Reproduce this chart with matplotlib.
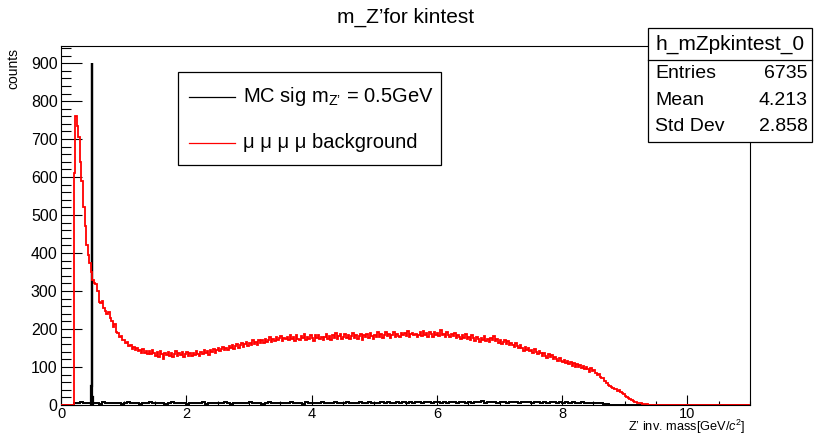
import numpy as np
import matplotlib
matplotlib.use("Agg")
import matplotlib.pyplot as plt
from matplotlib.patches import Rectangle
from matplotlib.lines import Line2D
from matplotlib.ticker import MultipleLocator

plt.rcParams["font.family"] = ["Liberation Sans", "DejaVu Sans"]
plt.rcParams["mathtext.fontset"] = "custom"
plt.rcParams["mathtext.rm"] = "Liberation Sans"
plt.rcParams["mathtext.it"] = "Liberation Sans:italic"

x_max = 11.0

# ---- mu mu mu mu background, 0.025 GeV bins ----
bkg_bin_width = 0.025
red_counts = [
    0, 0, 0, 0, 0, 0, 0, 0,                                  # 0.0-0.2
    610, 760, 735, 705, 640, 590, 520, 470,                  # 0.2-0.4
    420, 395, 375, 350, 330, 322, 318, 300,                  # 0.4-0.6
    272, 268, 275, 255, 248, 240, 244, 228,                  # 0.6-0.8
    220, 205, 212, 192, 190, 178, 182, 170,                  # 0.8-1.0
    172, 162, 165, 155, 158, 148, 152, 144,                  # 1.0-1.2
    150, 141, 146, 138, 148, 137, 143, 135,                  # 1.2-1.4
    141, 133, 145, 136, 130, 139, 127, 141,                  # 1.4-1.6
    134, 122, 138, 131, 140, 129, 136, 126,                  # 1.6-1.8
    135, 142, 128, 137, 131, 139, 126, 134,                  # 1.8-2.0
    140, 130, 136, 128, 138, 131, 142, 133,                  # 2.0-2.2
    129, 140, 135, 144, 136, 141, 132, 146,                  # 2.2-2.4
    139, 148, 137, 144, 150, 141, 147, 153,                  # 2.4-2.6
    144, 151, 146, 156, 149, 158, 147, 155,                  # 2.6-2.8
    160, 151, 157, 163, 154, 161, 167, 156,                  # 2.8-3.0
    162, 158, 170, 161, 166, 159, 172, 164,                  # 3.0-3.2
    170, 162, 175, 166, 171, 178, 165, 174,                  # 3.2-3.4
    168, 180, 171, 176, 182, 169, 177, 173,                  # 3.4-3.6
    180, 171, 185, 174, 178, 168, 183, 175,                  # 3.6-3.8
    172, 181, 176, 186, 170, 179, 174, 184,                  # 3.8-4.0
    177, 169, 183, 176, 185, 174, 180, 171,                  # 4.0-4.2
    178, 187, 175, 182, 172, 184, 177, 189,                  # 4.2-4.4
    174, 181, 186, 173, 179, 188, 176, 183,                  # 4.4-4.6
    174, 182, 190, 177, 185, 175, 181, 188,                  # 4.6-4.8
    172, 183, 179, 187, 176, 189, 181, 174,                  # 4.8-5.0
    184, 178, 191, 180, 186, 177, 183, 192,                  # 5.0-5.2
    181, 188, 176, 185, 193, 180, 187, 182,                  # 5.2-5.4
    178, 190, 184, 189, 181, 194, 179, 186,                  # 5.4-5.6
    190, 183, 188, 178, 185, 192, 181, 195,                  # 5.6-5.8
    183, 189, 180, 191, 186, 179, 193, 184,                  # 5.8-6.0
    190, 182, 197, 185, 188, 180, 191, 184,                  # 6.0-6.2
    179, 187, 182, 189, 176, 185, 180, 174,                  # 6.2-6.4
    183, 177, 186, 175, 180, 172, 184, 176,                  # 6.4-6.6
    169, 179, 173, 166, 177, 170, 181, 168,                  # 6.6-6.8
    174, 165, 176, 170, 182, 168, 173, 163,                  # 6.8-7.0
    170, 161, 167, 172, 160, 168, 157, 164,                  # 7.0-7.2
    159, 152, 163, 155, 149, 158, 151, 143,                  # 7.2-7.4
    154, 146, 150, 141, 145, 137, 148, 140,                  # 7.4-7.6
    133, 142, 136, 128, 137, 130, 124, 133,                  # 7.6-7.8
    126, 131, 120, 127, 122, 115, 124, 117,                  # 7.8-8.0
    113, 119, 110, 116, 108, 112, 104, 110,                  # 8.0-8.2
    101, 107, 99, 105, 97, 102, 94, 99,                      # 8.2-8.4
    95, 88, 97, 90, 92, 85, 78, 82,                          # 8.4-8.6
    75, 70, 72, 62, 58, 52, 50, 47,                          # 8.6-8.8
    45, 43, 41, 38, 40, 34, 31, 28,                          # 8.8-9.0
    25, 22, 18, 15, 13, 11, 9, 7,                            # 9.0-9.2
    6, 5, 4, 3, 3, 2, 2, 1,                                  # 9.2-9.4
    1,
]
red_counts = red_counts + [0] * (440 - len(red_counts))

# ---- MC signal continuum, 0.05 GeV bins ----
sig_bin_width = 0.05
black_counts = [
    0, 0, 0, 0, 4, 5, 7, 6, 5, 4,
    6, 5, 3, 7, 4, 6, 5, 4, 6, 3,
    5, 7, 4, 5, 6, 3, 5, 4, 7, 5,
    4, 6, 5, 3, 5, 7, 4, 6, 5, 4,
    3, 5, 6, 4, 5, 7, 3, 5, 4, 6,
    5, 4, 7, 5, 3, 6, 5, 4, 6, 5,
    7, 4, 5, 6, 3, 5, 7, 4, 6, 5,
    4, 6, 5, 7, 4, 5, 6, 3, 7, 5,
    6, 4, 5, 7, 5, 6, 4, 7, 5, 6,
    5, 7, 4, 6, 5, 8, 4, 6, 7, 5,
    6, 5, 8, 4, 7, 6, 5, 8, 6, 7,
    5, 8, 6, 7, 9, 5, 7, 8, 6, 9,
    7, 6, 8, 5, 9, 7, 6, 8, 7, 5,
    9, 6, 8, 7, 10, 6, 8, 7, 9, 6,
    8, 7, 6, 9, 7, 8, 6, 9, 7, 8,
    6, 8, 7, 5, 9, 6, 7, 8, 5, 7,
    6, 8, 5, 7, 6, 4, 7, 5, 6, 4,
    5, 6, 4, 3, 2, 1, 0, 0, 0, 0,
]
black_counts = black_counts + [0] * (220 - len(black_counts))

# MC signal resonance at m_Z' = 0.5 GeV (fine bins)
peak_edges = [0.48, 0.49, 0.50, 0.51]
peak_counts = [50, 900, 20]

stats_name = "h_mZpkintest_0"
stats_rows = [("Entries", "6735"), ("Mean", "4.213"), ("Std Dev", "2.858")]

bkg_edges = np.round(np.arange(0, x_max + bkg_bin_width / 2, bkg_bin_width), 4)
sig_edges = np.round(np.arange(0, x_max + sig_bin_width / 2, sig_bin_width), 4)

fig = plt.figure(figsize=(8.16, 4.37), dpi=100)
ax = fig.add_axes([0.0748, 0.0732, 0.8444, 0.8215])

ax.stairs(black_counts, sig_edges, color="black", lw=1.4, baseline=None, zorder=2)
ax.stairs(peak_counts, peak_edges, color="black", lw=1.6, zorder=2)
ax.stairs(red_counts, bkg_edges, color="red", lw=1.3, baseline=None, zorder=3)

ax.set_xlim(0, x_max)
ax.set_ylim(0, 945)

ax.xaxis.set_major_locator(MultipleLocator(2))
ax.xaxis.set_minor_locator(MultipleLocator(0.5))
ax.yaxis.set_major_locator(MultipleLocator(100))
ax.yaxis.set_minor_locator(MultipleLocator(20))
ax.tick_params(which="both", direction="in", top=False, right=False, width=0.8)
ax.tick_params(axis="y", which="major", length=15, pad=2.5, labelsize=11.5)
ax.tick_params(axis="y", which="minor", length=7.5)
ax.tick_params(axis="x", which="major", length=7.5, pad=1.5, labelsize=10.5)
ax.tick_params(axis="x", which="minor", length=3)
for sp in ax.spines.values():
    sp.set_linewidth(0.8)

# title and axis labels
fig.text(0.497, 1 - 17 / 437, "m_Z’for kintest", ha="center", va="center", fontsize=15)
fig.text(13 / 816, 1 - 48 / 437, "counts", rotation=90, ha="center", va="top", fontsize=10)
fig.text(745 / 816, 1 / 437, "Z’ inv. mass[GeV/$c^{2}$]", ha="right", va="bottom", fontsize=9.2)

# legend
tr = ax.transAxes
ax.add_patch(Rectangle((0.170, 0.669), 0.381, 0.259, transform=tr, facecolor="white",
                       edgecolor="black", lw=0.9, zorder=6))
ax.add_line(Line2D([0.185, 0.253], [0.858, 0.858], transform=tr, color="black", lw=0.9, zorder=7))
ax.add_line(Line2D([0.185, 0.253], [0.730, 0.730], transform=tr, color="red", lw=0.9, zorder=7))
ax.text(0.2645, 0.858, "MC sig m$_{\\mathrm{Z’}}$ = 0.5GeV", transform=tr, ha="left", va="center",
        fontsize=14.5, zorder=7)
ax.text(0.2645, 0.730, "μ μ μ μ background", transform=tr, ha="left", va="center",
        fontsize=14.5, zorder=7)

# statistics box
fig.add_artist(Rectangle((0.794, 0.675), 0.201, 0.261, transform=fig.transFigure,
                         facecolor="white", edgecolor="black", lw=0.9, zorder=5))
fig.add_artist(Line2D([0.794, 0.995], [0.863, 0.863], transform=fig.transFigure,
                      color="black", lw=0.9, zorder=6))
fig.text(0.8946, 0.899, stats_name, ha="center", va="center", fontsize=15, zorder=7)
for (label, value), yy in zip(stats_rows, [0.8307, 0.7689, 0.7094]):
    fig.text(0.8027, yy, label, ha="left", va="center", fontsize=14, zorder=7)
    fig.text(0.990, yy, value, ha="right", va="center", fontsize=14, zorder=7)

fig.savefig("out.png", dpi=100)
